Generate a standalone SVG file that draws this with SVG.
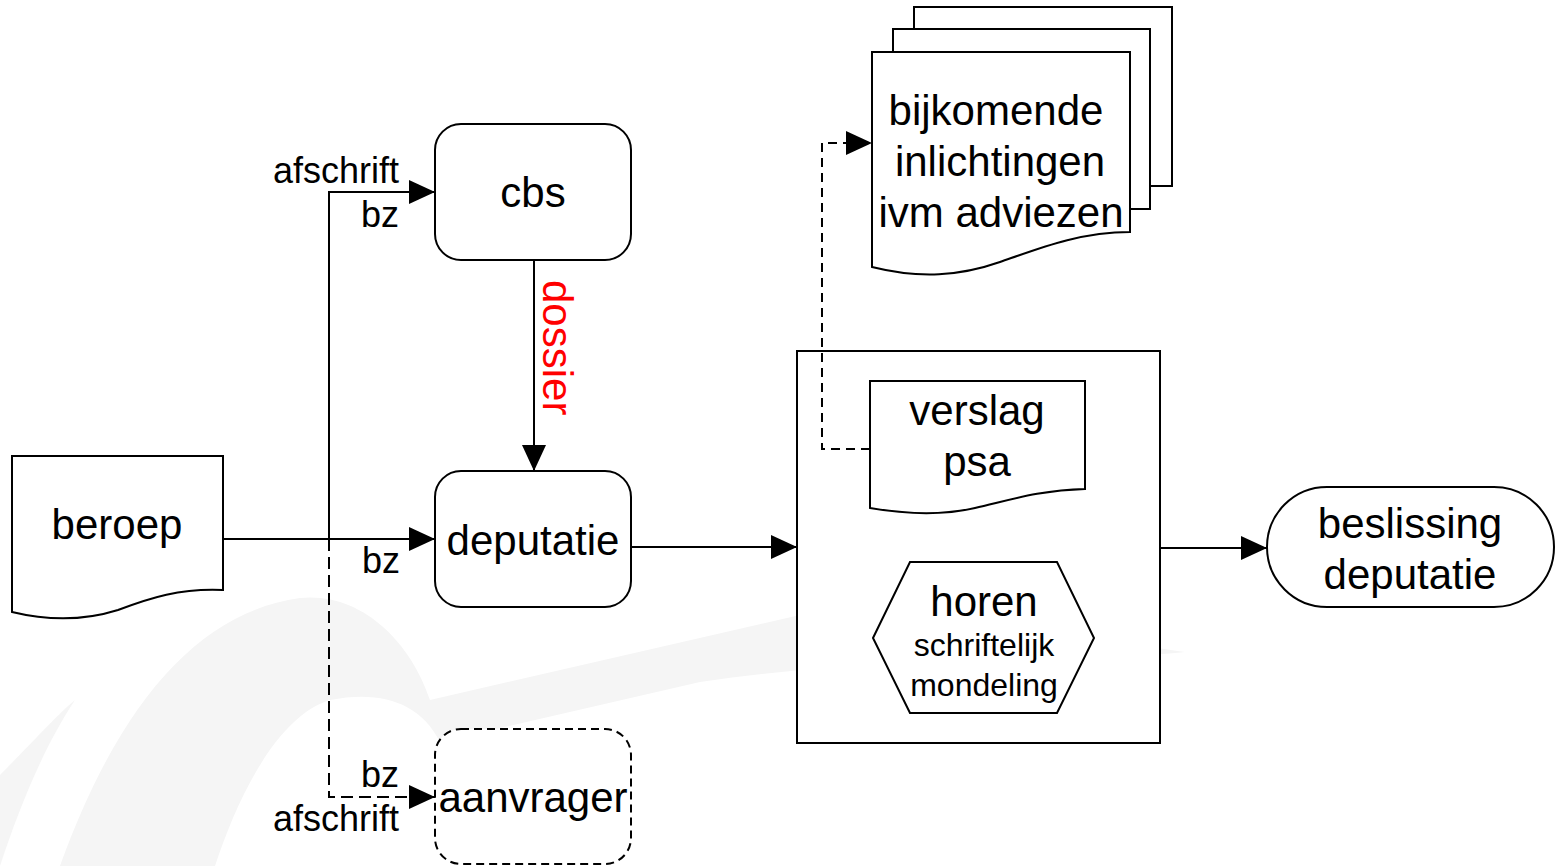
<svg xmlns="http://www.w3.org/2000/svg" width="1560" height="866" viewBox="0 0 1560 866">
<defs>
<marker id="arr" markerWidth="26" markerHeight="24" refX="26" refY="12" orient="auto" markerUnits="userSpaceOnUse">
<path d="M0,0 L26,12 L0,24 Z" fill="#000"/>
</marker>
<style>
.s{fill:#fff;stroke:#000;stroke-width:2}
.t{font-family:"Liberation Sans",Arial,sans-serif;font-size:42px;fill:#000;text-anchor:middle}
.sm{font-size:32px}
.lb{font-family:"Liberation Sans",Arial,sans-serif;font-size:36px;fill:#000;text-anchor:end}
.c{fill:none;stroke:#000;stroke-width:2}
.d{stroke-dasharray:12 6}
.wm{fill:#f5f5f5}
</style>
</defs>
<rect width="1560" height="866" fill="#fff"/>
<g id="watermark">
<path class="wm" d="M60,866 C120,700 200,612 300,598 C360,592 410,640 430,700 L800,615 C900,602 1100,640 1185,652 C1100,662 900,652 700,682 L440,742 C420,702 380,690 330,700 C280,715 240,790 215,866 Z"/>
<path class="wm" d="M0,775 C30,745 60,712 75,700 C45,745 20,805 0,866 Z"/>
</g>
<g id="proces">
<rect class="s" x="797" y="351" width="363" height="392"/>
</g>
<g id="connectors">
<path class="c" d="M223,539 H435" marker-end="url(#arr)"/>
<path class="c" d="M329,539 V192 H435" marker-end="url(#arr)"/>
<path class="c d" d="M329,539 V797 H435" marker-end="url(#arr)"/>
<path class="c" d="M534,260 V471" marker-end="url(#arr)"/>
<path class="c" d="M631,547 H797" marker-end="url(#arr)"/>
<path class="c" d="M1160,548 H1267" marker-end="url(#arr)"/>
<path class="c" style="stroke-dasharray:9 6" d="M870,449 H822 V143 H872" marker-end="url(#arr)"/>
<text class="lb" x="399" y="183">afschrift</text>
<text class="lb" x="399" y="227">bz</text>
<text class="lb" x="400" y="573">bz</text>
<text class="lb" x="399" y="787">bz</text>
<text class="lb" x="399" y="831">afschrift</text>
<text font-family="'Liberation Sans',Arial,sans-serif" font-size="42" fill="#ff0000" transform="translate(543,280) rotate(90)">dossier</text>
</g>
<g id="beroep">
<path class="s" d="M12,456 H223 V590 C180,588 150,598 118,610 C80,622 45,620 12,612 Z"/>
<text class="t" x="117" y="539">beroep</text>
</g>
<g id="cbs">
<rect class="s" x="435" y="124" width="196" height="136" rx="26"/>
<text class="t" x="533" y="207">cbs</text>
</g>
<g id="deputatie">
<rect class="s" x="435" y="471" width="196" height="136" rx="26"/>
<text class="t" x="533" y="555">deputatie</text>
</g>
<g id="aanvrager">
<rect class="s" style="stroke-dasharray:8 5" x="435" y="729" width="196" height="135" rx="26"/>
<text class="t" x="533" y="812">aanvrager</text>
</g>
<g id="verslag">
<path class="s" d="M870,381 H1085 V489 C1040,490 1010,500 975,508 C940,516 905,514 870,508 Z"/>
<text class="t" x="977" y="425">verslag</text>
<text class="t" x="977" y="476">psa</text>
</g>
<g id="horen">
<polygon class="s" points="873,638 910,562 1057,562 1094,638 1057,713 910,713"/>
<text class="t" x="984" y="616">horen</text>
<text class="t sm" x="984" y="656">schriftelijk</text>
<text class="t sm" x="984" y="696">mondeling</text>
</g>
<g id="bijkomende">
<path class="s" d="M914,7 H1172 V186 H1150 V209 H914 Z"/>
<path class="s" d="M893,29 H1150 V209 H1130 V232 H893 Z"/>
<path class="s" d="M872,52 H1130 V232 C1080,232 1040,248 1000,262 C960,276 920,279 872,267 Z"/>
<text class="t" x="996" y="125">bijkomende</text>
<text class="t" x="1000" y="176">inlichtingen</text>
<text class="t" x="1001" y="227">ivm adviezen</text>
</g>
<g id="beslissing">
<rect class="s" x="1267" y="487" width="287" height="120" rx="60"/>
<text class="t" x="1410" y="538">beslissing</text>
<text class="t" x="1410" y="589">deputatie</text>
</g>
</svg>
